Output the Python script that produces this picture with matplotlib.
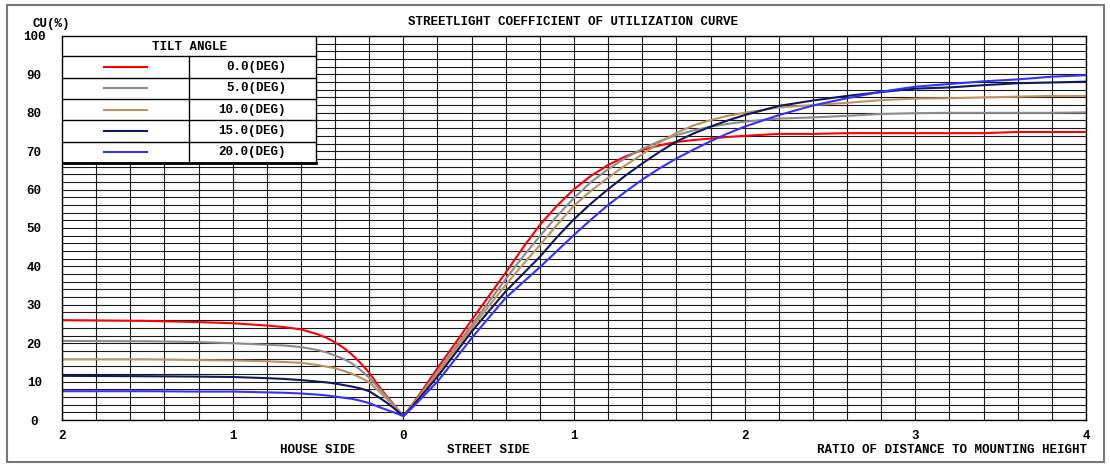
import matplotlib.pyplot as plt
import matplotlib.patches as mpatches
from matplotlib.lines import Line2D
import numpy as np

plt.rcParams['font.family'] = ['Liberation Mono', 'DejaVu Sans Mono']
plt.rcParams['font.weight'] = 'bold'
plt.rcParams['font.size'] = 9

# tilt angles and colours
tilt_labels = ['0.0(DEG)', '5.0(DEG)', '10.0(DEG)', '15.0(DEG)', '20.0(DEG)']
colors = ['#ff0000', '#8c8c8c', '#c0915f', '#0c1a5e', '#3232ff']

# street side: ratio of distance to mounting height
street_d = [0, 0.05, 0.1, 0.2, 0.3, 0.4, 0.5, 0.6, 0.7, 0.8, 0.9, 1.0, 1.1, 1.2, 1.3,
            1.4, 1.5, 1.6, 1.7, 1.8, 1.9, 2.0, 2.2, 2.4, 2.6, 2.8, 3.0, 3.2, 3.4,
            3.6, 3.8, 4.0]
street_0 = [1, 3.9, 7.0, 13.5, 19.7, 26.0, 32.2, 38.4, 44.8, 50.8, 55.8, 60.1, 63.6,
            66.4, 68.6, 70.3, 71.5, 72.4, 72.9, 73.3, 73.7, 74.0, 74.5, 74.5, 74.7,
            74.7, 74.7, 74.7, 74.7, 75.0, 75.0, 75.0]
street_5 = [1, 3.7, 6.6, 12.6, 18.6, 24.7, 30.7, 36.7, 42.5, 47.9, 53.1, 57.8, 62.0,
            65.3, 68.2, 70.6, 72.6, 74.2, 75.4, 76.4, 77.1, 77.7, 78.5, 78.8, 79.2,
            79.7, 79.9, 80.0, 80.0, 80.0, 80.0, 80.1]
street_10 = [1, 3.6, 6.4, 12.2, 18.0, 23.9, 29.6, 35.2, 40.5, 45.5, 50.8, 55.8, 59.7,
             63.1, 66.3, 69.2, 72.2, 74.8, 76.7, 78.1, 79.2, 80.0, 81.4, 82.0, 82.6,
             83.3, 83.7, 83.8, 84.0, 84.2, 84.4, 84.4]
street_15 = [1, 3.4, 6.0, 11.3, 17.1, 23.0, 28.3, 33.5, 38.0, 42.5, 47.6, 52.3, 56.4,
             60.1, 63.6, 66.8, 69.8, 72.5, 74.6, 76.4, 78.0, 79.4, 81.8, 83.2, 84.4,
             85.4, 86.3, 86.6, 87.2, 87.7, 87.9, 88.1]
street_20 = [1, 3.1, 5.4, 10.0, 15.6, 21.3, 26.6, 31.8, 35.8, 39.8, 44.0, 48.2, 52.2,
             56.0, 59.4, 62.6, 65.5, 68.1, 70.4, 72.6, 74.6, 76.4, 79.4, 81.9, 83.8,
             85.5, 86.8, 87.5, 88.2, 88.7, 89.4, 89.8]

# house side
house_d = [0, 0.05, 0.1, 0.15, 0.2, 0.25, 0.3, 0.35, 0.4, 0.45, 0.5, 0.6, 0.7, 0.8,
           1.0, 1.2, 1.5, 2.0]
house_0 = [1, 3.7, 6.4, 9.2, 12.3, 14.8, 17.0, 18.8, 20.2, 21.4, 22.3, 23.6, 24.2,
           24.6, 25.2, 25.5, 25.8, 26.0]
house_5 = [1, 3.6, 6.2, 8.6, 11.0, 13.0, 14.7, 15.9, 16.8, 17.6, 18.2, 19.0, 19.4,
           19.6, 20.0, 20.3, 20.5, 20.6]
house_10 = [1, 3.4, 5.6, 7.8, 9.8, 11.0, 12.0, 12.8, 13.5, 13.9, 14.3, 14.9, 15.1,
            15.3, 15.5, 15.6, 15.8, 15.8]
house_15 = [1, 2.9, 4.6, 6.1, 7.5, 8.2, 8.7, 9.1, 9.5, 9.8, 10.0, 10.4, 10.7, 10.9,
            11.2, 11.3, 11.4, 11.5]
house_20 = [1, 1.9, 2.7, 3.5, 4.4, 5.0, 5.5, 5.8, 6.1, 6.4, 6.6, 6.9, 7.1, 7.2, 7.4,
            7.4, 7.5, 7.5]

street = [street_0, street_5, street_10, street_15, street_20]
house = [house_0, house_5, house_10, house_15, house_20]

fig = plt.figure(figsize=(11.1, 4.65), dpi=100)
ax = fig.add_axes([62 / 1110, 1 - 420 / 465, 1024 / 1110, 384 / 465])

# outer frame
fig.patches.append(mpatches.Rectangle((7 / 1110, 3 / 465), 1097 / 1110, 457 / 465,
                                      transform=fig.transFigure, fill=False,
                                      edgecolor='#777777', lw=1.5))

for c, s, h in zip(colors, street, house):
    x = [-d for d in house_d[::-1]] + street_d[1:]
    y = h[::-1] + s[1:]
    ax.plot(x, y, color=c, lw=1.5, zorder=2)

ax.set_xlim(-2, 4)
ax.set_ylim(0, 100)
ax.set_xticks([-2, -1, 0, 1, 2, 3, 4])
ax.set_xticklabels(['2', '1', '0', '1', '2', '3', '4'])
ax.set_xticks(np.arange(-2, 4.01, 0.2), minor=True)
ax.set_yticks(np.arange(0, 101, 10))
ax.set_yticks(np.arange(0, 101, 2), minor=True)
ax.tick_params(which='both', length=0)
ax.tick_params(axis='x', pad=7)
ax.tick_params(axis='y', pad=20)
for lab in ax.get_yticklabels():
    lab.set_horizontalalignment('center')
ax.grid(which='both', color='#1a1a1a', lw=0.8)
ax.set_axisbelow(True)
for sp in ax.spines.values():
    sp.set_linewidth(1.0)

# texts
fig.text(573 / 1110, 1 - 22 / 465, 'STREETLIGHT COEFFICIENT OF UTILIZATION CURVE',
         ha='center', va='center')
fig.text(51 / 1110, 1 - 24 / 465, 'CU(%)', ha='center', va='center')
fig.text(318 / 1110, 1 - 450 / 465, 'HOUSE SIDE', ha='center', va='center')
fig.text(488 / 1110, 1 - 450 / 465, 'STREET SIDE', ha='center', va='center')
fig.text(1087 / 1110, 1 - 450 / 465, 'RATIO OF DISTANCE TO MOUNTING HEIGHT',
         ha='right', va='center')

# legend table, in pixel-like axes fractions
def ax_x(px):
    return (px - 62) / 1024

def ax_y(py):
    return (420 - py) / 384

tab_l, tab_r, tab_t, tab_b = ax_x(62), ax_x(316), ax_y(36), ax_y(162.5)
ax.add_patch(mpatches.Rectangle((tab_l, tab_b), tab_r - tab_l, tab_t - tab_b,
                                transform=ax.transAxes, facecolor='white',
                                edgecolor='black', lw=1.0, zorder=3))
rows = [36, 56.5, 77.8, 99, 120.3, 141.6, 162.5]
for r in rows[1:-1]:
    ax.add_line(Line2D([tab_l, tab_r], [ax_y(r), ax_y(r)], transform=ax.transAxes,
                       color='black', lw=1.0, zorder=4))
ax.add_line(Line2D([tab_l, tab_r], [ax_y(162.5), ax_y(162.5)], transform=ax.transAxes,
                   color='black', lw=2.0, zorder=4))
ax.add_line(Line2D([ax_x(189.3), ax_x(189.3)], [ax_y(56.5), tab_b],
                   transform=ax.transAxes, color='black', lw=1.0, zorder=4))
ax.text(ax_x(189), ax_y(46.5), 'TILT ANGLE', transform=ax.transAxes,
        ha='center', va='center', zorder=5)
for i, (c, lab) in enumerate(zip(colors, tilt_labels)):
    yc = ax_y((rows[i + 1] + rows[i + 2]) / 2)
    ax.add_line(Line2D([ax_x(104), ax_x(147)], [yc, yc], transform=ax.transAxes,
                       color=c, lw=1.5, zorder=5))
    ax.text(ax_x(286), yc, lab, transform=ax.transAxes, ha='right', va='center',
            zorder=5)

fig.savefig('out.png', dpi=100)
